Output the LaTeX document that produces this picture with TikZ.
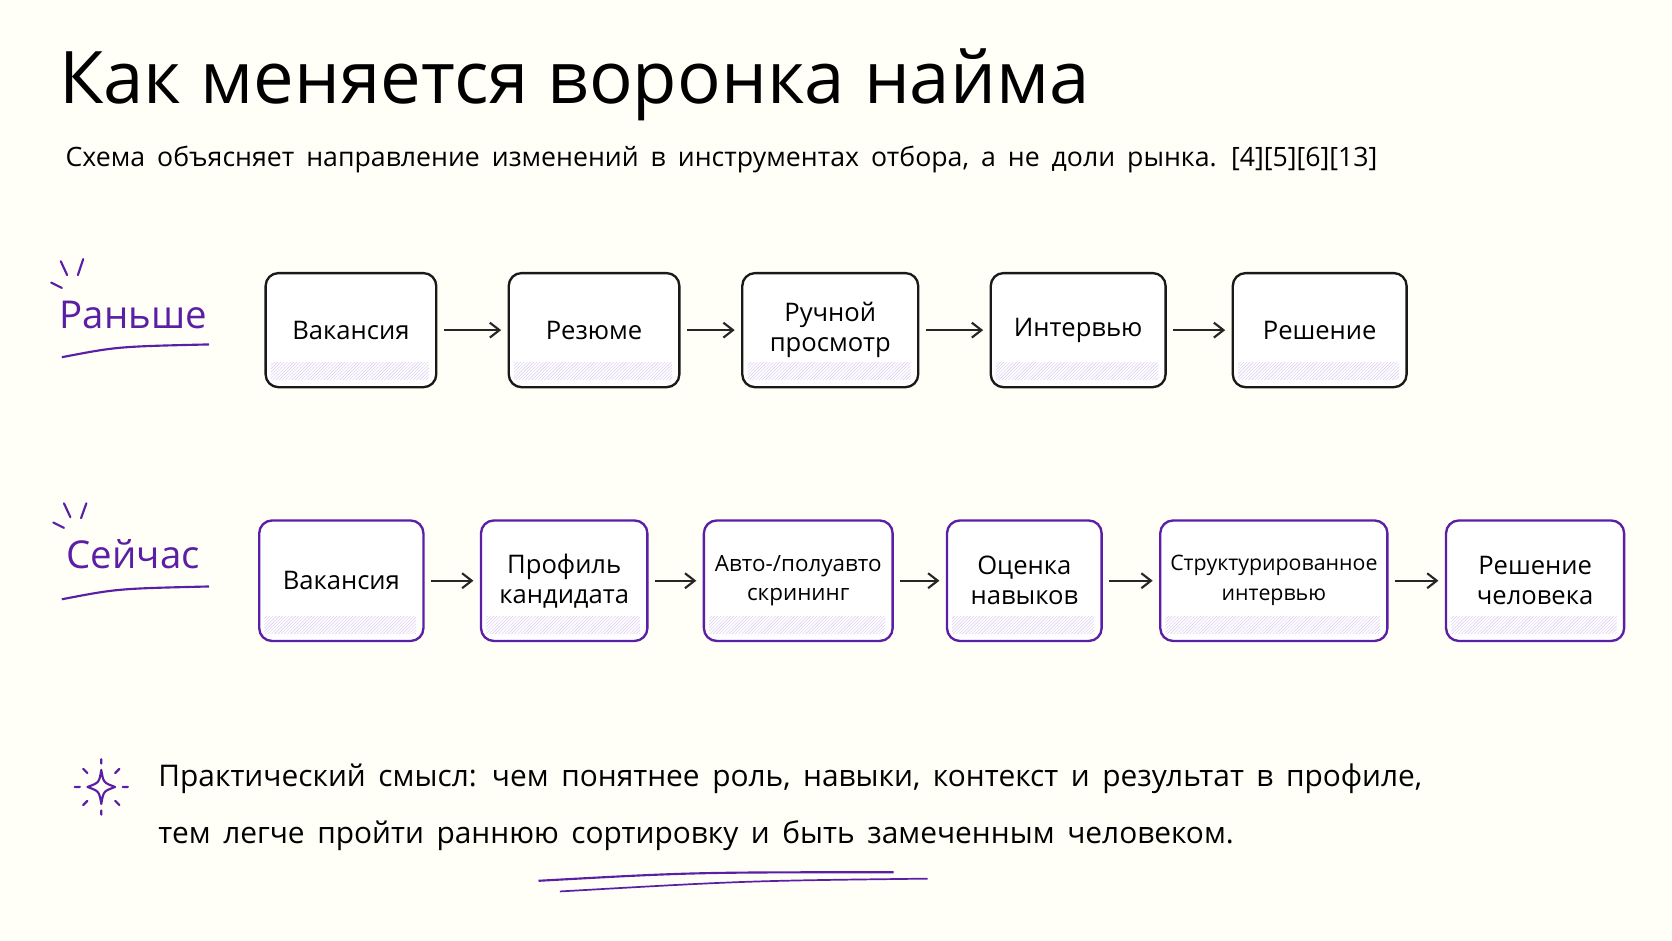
\documentclass[tikz,border=0pt]{standalone}
\usepackage{fontspec}
\setmainfont{Open Sans}
\usetikzlibrary{patterns,arrows.meta}
\definecolor{pur}{HTML}{5B1FA6}
\definecolor{lpur}{HTML}{D9C8F0}
\begin{document}
\begin{tikzpicture}[x=1pt,y=-1pt,
 box/.style={draw=black!90,line width=2.2pt,rounded corners=12pt,fill=white,align=center,font=\fontsize{24}{28}\selectfont,inner sep=0pt},
 pbox/.style={box,draw=pur},
 arr/.style={-{Straight Barb[length=9pt,width=14pt]},line width=2pt,black!85,shorten <=6pt,shorten >=6pt},
 lab/.style={text=pur,font=\fontsize{36}{40}\selectfont}]
\useasboundingbox[fill=white!97!yellow] (0,0) rectangle (1568,882);
\node[anchor=west,font=\fontsize{68}{72}\selectfont] (title) at (52,80) {Как меняется воронка найма};
\node[anchor=west,font=\fontsize{25}{28}\selectfont,spacing/.style={}] (sub) at (58,150) {\spaceskip=0.45em Схема объясняет направление изменений в инструментах отбора, а не доли рынка. [4][5][6][13]};
% labels
\node[lab] (l1) at (125,295) {Раньше};
\draw[pur,line width=2pt] (58,335) .. controls (110,325) .. (196,323);
\draw[pur,line width=2pt,line cap=round] (48,265)--(58,270) (57,245)--(63,258) (78,243)--(73,258);
\node[lab] (l2) at (125,520) {Сейчас};
\draw[pur,line width=2pt] (58,562) .. controls (110,552) .. (196,550);
\draw[pur,line width=2pt,line cap=round] (50,490)--(60,495) (60,472)--(66,485) (81,472)--(76,486);
% row 1
\foreach \n/\a/\b/\t in {a1/248/408/Вакансия,a2/476/636/Резюме,a3/695/860/{Ручной\\просмотр},a4/928/1092/Интервью,a5/1155/1318/Решение}{
 \node[box,minimum width=\b-\a,minimum height=107,anchor=north west] (\n) at (\a,255) {\t};
 \fill[pattern=north east lines,pattern color=lpur] (\a+6,340) rectangle (\b-6,356);
}
\foreach \p/\q in {a1/a2,a2/a3,a3/a4,a4/a5} \draw[arr] (\p) -- (\q);
% row 2
\foreach \n/\a/\b/\t in {b1/242/396/Вакансия,b2/450/606/{Профиль\\кандидата},b3/659/836/{\fontsize{21}{28}\selectfont Авто-/полуавто\\\fontsize{21}{28}\selectfont скрининг},b4/887/1032/{Оценка\\навыков},b5/1087/1300/{\fontsize{20}{28}\selectfont Структурированное\\\fontsize{20}{28}\selectfont интервью},b6/1355/1522/{Решение\\человека}}{
 \node[pbox,minimum width=\b-\a,minimum height=113,anchor=north west] (\n) at (\a,487) {\t};
 \fill[pattern=north east lines,pattern color=lpur] (\a+6,578) rectangle (\b-6,594);
}
\foreach \p/\q in {b1/b2,b2/b3,b3/b4,b4/b5,b5/b6} \draw[arr] (\p) -- (\q);
% bottom
\draw[pur,line width=2pt,line join=round] (95,722) .. controls (97,734) .. (108,738) .. controls (97,742) .. (95,754) .. controls (93,742) .. (82,738) .. controls (93,734) .. (95,722) -- cycle;
\draw[pur,line width=2pt,line cap=round] (95,712)--(95,716) (95,760)--(95,764) (70,738)--(75,738) (115,738)--(120,738) (78,721)--(82,725) (112,721)--(108,725) (78,755)--(82,751) (112,755)--(108,751);
\node[anchor=west,align=left,font=\fontsize{28}{54}\selectfont] (txt) at (145,757) {\spaceskip=0.42em Практический смысл: чем понятнее роль, навыки, контекст и результат в профиле,\\\spaceskip=0.42em тем легче пройти раннюю сортировку и быть замеченным человеком.};
\draw[pur,line width=2pt] (505,826) .. controls (650,818) .. (838,818);
\draw[pur,line width=1.6pt] (525,836) .. controls (700,826) .. (870,824);
\end{tikzpicture}
\end{document}
